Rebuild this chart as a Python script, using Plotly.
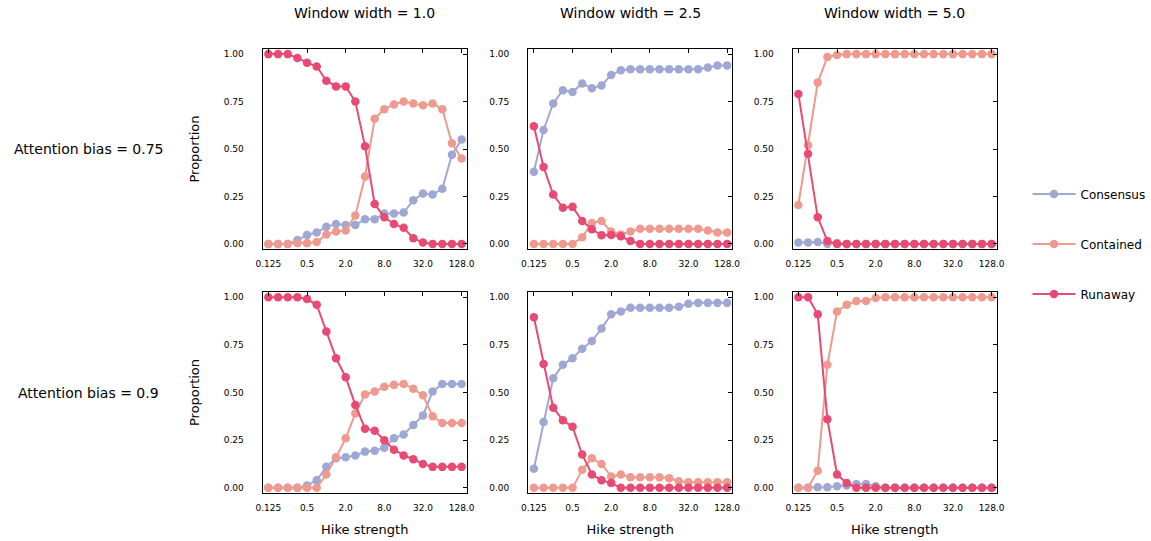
import plotly.graph_objects as go

# ---------------- data ----------------
hike = [2 ** (k / 2) for k in range(-6, 15)]  # 0.125 ... 128 (half-octave steps)
tick_vals = [0.125, 0.5, 2.0, 8.0, 32.0, 128.0]
tick_text = ["0.125", "0.5", "2.0", "8.0", "32.0", "128.0"]
y_vals = [0, 0.25, 0.5, 0.75, 1.0]
y_text = ["0.00", "0.25", "0.50", "0.75", "1.00"]

window_widths = ["1.0", "2.5", "5.0"]
attention_biases = ["0.75", "0.9"]
outcomes = ["Consensus", "Contained", "Runaway"]
colors = {"Consensus": "#9fa8d3", "Contained": "#ee9a8f", "Runaway": "#e74a72"}

# bias 0.75
b075_w1_consensus = [0, 0, 0, 0.02, 0.047, 0.06, 0.09, 0.105, 0.10, 0.10, 0.13, 0.13, 0.16, 0.16, 0.165, 0.23, 0.265, 0.26, 0.29, 0.47, 0.55]
b075_w1_contained = [0, 0, 0, 0.004, 0.004, 0.01, 0.05, 0.065, 0.07, 0.15, 0.355, 0.66, 0.71, 0.735, 0.75, 0.74, 0.73, 0.74, 0.71, 0.53, 0.45]
b075_w1_runaway = [1.0, 1.0, 1.0, 0.98, 0.955, 0.935, 0.86, 0.83, 0.83, 0.75, 0.515, 0.21, 0.14, 0.105, 0.085, 0.03, 0.007, 0, 0, 0, 0]

b075_w25_consensus = [0.38, 0.60, 0.74, 0.81, 0.80, 0.845, 0.82, 0.835, 0.89, 0.915, 0.92, 0.92, 0.92, 0.92, 0.92, 0.92, 0.92, 0.92, 0.93, 0.94, 0.94]
b075_w25_contained = [0, 0, 0, 0, 0, 0.035, 0.11, 0.12, 0.065, 0.05, 0.065, 0.08, 0.08, 0.08, 0.08, 0.08, 0.08, 0.08, 0.07, 0.06, 0.06]
b075_w25_runaway = [0.62, 0.405, 0.26, 0.19, 0.195, 0.12, 0.077, 0.045, 0.047, 0.04, 0.015, 0, 0, 0, 0, 0, 0, 0, 0, 0, 0]

b075_w5_consensus = [0.007, 0.007, 0.01, 0, 0.005, 0, 0, 0, 0, 0, 0, 0, 0, 0, 0, 0, 0, 0, 0, 0, 0]
b075_w5_contained = [0.205, 0.52, 0.85, 0.985, 0.995, 1.0, 1.0, 1.0, 1.0, 1.0, 1.0, 1.0, 1.0, 1.0, 1.0, 1.0, 1.0, 1.0, 1.0, 1.0, 1.0]
b075_w5_runaway = [0.79, 0.475, 0.14, 0.015, 0, 0, 0, 0, 0, 0, 0, 0, 0, 0, 0, 0, 0, 0, 0, 0, 0]

# bias 0.9
b09_w1_consensus = [0, 0, 0, 0, 0.012, 0.04, 0.11, 0.155, 0.16, 0.17, 0.19, 0.195, 0.21, 0.26, 0.28, 0.33, 0.38, 0.505, 0.545, 0.545, 0.545]
b09_w1_contained = [0, 0, 0, 0, 0, 0, 0.07, 0.16, 0.26, 0.39, 0.49, 0.505, 0.53, 0.54, 0.545, 0.52, 0.485, 0.375, 0.34, 0.34, 0.34]
b09_w1_runaway = [1.0, 1.0, 1.0, 1.0, 0.99, 0.96, 0.82, 0.68, 0.58, 0.435, 0.31, 0.30, 0.25, 0.20, 0.17, 0.15, 0.125, 0.11, 0.11, 0.11, 0.11]

b09_w25_consensus = [0.10, 0.345, 0.575, 0.645, 0.68, 0.73, 0.77, 0.835, 0.91, 0.925, 0.945, 0.945, 0.945, 0.945, 0.945, 0.95, 0.965, 0.97, 0.97, 0.97, 0.97]
b09_w25_contained = [0, 0, 0, 0, 0, 0.095, 0.155, 0.125, 0.06, 0.07, 0.055, 0.055, 0.055, 0.055, 0.05, 0.035, 0.03, 0.03, 0.03, 0.03, 0.03]
b09_w25_runaway = [0.895, 0.65, 0.42, 0.355, 0.32, 0.175, 0.07, 0.04, 0.025, 0, 0, 0, 0, 0, 0, 0, 0, 0, 0, 0, 0]

b09_w5_consensus = [0, 0, 0.003, 0.003, 0.008, 0.012, 0.02, 0.02, 0.008, 0, 0, 0, 0, 0, 0, 0, 0, 0, 0, 0, 0]
b09_w5_contained = [0, 0, 0.09, 0.645, 0.925, 0.96, 0.98, 0.98, 0.995, 1.0, 1.0, 1.0, 1.0, 1.0, 1.0, 1.0, 1.0, 1.0, 1.0, 1.0, 1.0]
b09_w5_runaway = [1.0, 1.0, 0.91, 0.36, 0.07, 0.025, 0, 0, 0, 0, 0, 0, 0, 0, 0, 0, 0, 0, 0, 0, 0]

panels = [
    [(b075_w1_consensus, b075_w1_contained, b075_w1_runaway),
     (b075_w25_consensus, b075_w25_contained, b075_w25_runaway),
     (b075_w5_consensus, b075_w5_contained, b075_w5_runaway)],
    [(b09_w1_consensus, b09_w1_contained, b09_w1_runaway),
     (b09_w25_consensus, b09_w25_contained, b09_w25_runaway),
     (b09_w5_consensus, b09_w5_contained, b09_w5_runaway)],
]

# ---------------- layout geometry ----------------
W, H = 1151, 541
col_px = [(259, 466), (528, 735), (796, 1003)]
row_px = [(49, 249), (292, 493)]
FONT = "DejaVu Sans"
XRANGE = [-0.993, 2.19]
YRANGE = [-0.027, 1.027]

fig = go.Figure()
layout = dict(
    width=W, height=H,
    margin=dict(l=0, r=0, t=0, b=0),
    paper_bgcolor="white", plot_bgcolor="white",
    font=dict(family=FONT, color="#000000", size=9),
    showlegend=True,
    legend=dict(x=1034 / W, y=1 - 244 / H, xanchor="left", yanchor="middle",
                font=dict(size=12, family=FONT), tracegroupgap=31, itemwidth=43,
                bgcolor="rgba(0,0,0,0)"),
)

annotations = []
n = 0
for r in range(2):
    for c in range(3):
        n += 1
        sfx = "" if n == 1 else str(n)
        ov = str(n + 6)
        xd = [col_px[c][0] / W, col_px[c][1] / W]
        yd = [1 - row_px[r][1] / H, 1 - row_px[r][0] / H]
        layout["xaxis" + sfx] = dict(
            domain=xd, anchor="y" + sfx, type="log", range=XRANGE,
            tickvals=tick_vals, ticktext=tick_text, ticks="",
            showline=True, linecolor="black", linewidth=1, mirror=True,
            showgrid=False, zeroline=False, tickfont=dict(size=9),
            ticklabelstandoff=6,
            title=dict(text="Hike strength" if r == 1 else "", font=dict(size=13), standoff=13),
        )
        layout["yaxis" + sfx] = dict(
            domain=yd, anchor="x" + sfx, range=YRANGE,
            tickvals=y_vals, ticktext=y_text, ticks="",
            showline=True, linecolor="black", linewidth=1, mirror=True,
            showgrid=False, zeroline=False, tickfont=dict(size=9),
            ticklabelstandoff=16,
            title=dict(text="Proportion" if c == 0 else "", font=dict(size=13), standoff=21),
        )
        # overlay axes: inward ticks on top and right only
        layout["xaxis" + ov] = dict(
            overlaying="x" + sfx, anchor="y" + ov, side="top", type="log", range=XRANGE,
            tickvals=tick_vals, ticks="inside", ticklen=4, tickcolor="black",
            showticklabels=False, showline=False, showgrid=False, zeroline=False,
        )
        layout["yaxis" + ov] = dict(
            overlaying="y" + sfx, anchor="x" + ov, side="right", range=YRANGE,
            tickvals=y_vals, ticks="inside", ticklen=4, tickcolor="black",
            showticklabels=False, showline=False, showgrid=False, zeroline=False,
        )
        fig.add_trace(go.Scatter(x=[hike[0]], y=[0], xaxis="x" + ov, yaxis="y" + ov,
                                 mode="markers", marker=dict(opacity=0), showlegend=False,
                                 hoverinfo="skip"))
        for k, name in enumerate(outcomes):
            fig.add_trace(go.Scatter(
                x=hike, y=panels[r][c][k], mode="lines+markers", name=name,
                xaxis="x" + sfx, yaxis="y" + sfx,
                line=dict(color=colors[name], width=2),
                marker=dict(color=colors[name], size=8.5),
                legendgroup=name, showlegend=(n == 1),
            ))

for c in range(3):
    annotations.append(dict(
        text="Window width = " + window_widths[c], xref="paper", yref="paper",
        x=(col_px[c][0] + col_px[c][1]) / 2 / W, y=1 - 13 / H,
        xanchor="center", yanchor="middle", showarrow=False, font=dict(size=14, family=FONT)))
for r in range(2):
    annotations.append(dict(
        text="Attention bias = " + attention_biases[r], xref="paper", yref="paper",
        x=83 / W, y=1 - (row_px[r][0] + row_px[r][1]) / 2 / H,
        xanchor="center", yanchor="middle", showarrow=False, font=dict(size=14, family=FONT)))
layout["annotations"] = annotations

fig.update_layout(**layout)
fig.write_html("out.html", config={"displayModeBar": False},
               post_script="document.body.style.margin='0';document.body.style.overflow='hidden';")
